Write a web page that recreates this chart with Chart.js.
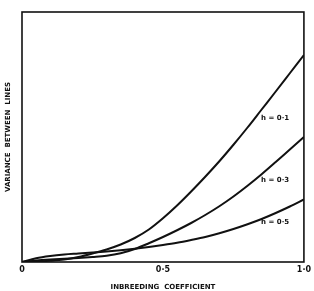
<!DOCTYPE html>
<html>
<head>
<meta charset="utf-8">
<script src="https://cdn.jsdelivr.net/npm/chart.js@4"></script>
<style>
  html, body { margin: 0; padding: 0; background: #fff; }
  #wrap { width: 314px; height: 291px; }
</style>
</head>
<body>
<div id="wrap"><canvas id="c" width="314" height="291"></canvas></div>
<script>
// Inbreeding coefficient (x)
const inbreeding = [0, 0.05, 0.1, 0.15, 0.2, 0.25, 0.3, 0.35, 0.4, 0.45, 0.5,
                    0.55, 0.6, 0.65, 0.7, 0.75, 0.8, 0.85, 0.9, 0.95, 1.0];
// Variance between lines (relative units)
const h01 = [0, 0.002, 0.005, 0.010, 0.020, 0.034, 0.050, 0.070, 0.096, 0.130, 0.175,
             0.226, 0.282, 0.341, 0.403, 0.469, 0.538, 0.610, 0.682, 0.755, 0.828];
const h03 = [0, 0.006, 0.010, 0.013, 0.016, 0.020, 0.025, 0.035, 0.052, 0.075, 0.100,
             0.127, 0.156, 0.188, 0.223, 0.262, 0.305, 0.351, 0.400, 0.450, 0.500];
const h05 = [0, 0.015, 0.024, 0.030, 0.034, 0.038, 0.042, 0.047, 0.053, 0.060, 0.068,
             0.077, 0.088, 0.100, 0.115, 0.132, 0.151, 0.172, 0.196, 0.222, 0.250];
const seriesNames = ['h = 0·1', 'h = 0·3', 'h = 0·5'];
const xTickValues = [0, 0.5, 1.0];
const xTickLabels = ['0', '0·5', '1·0'];
// label anchor (in data units) for each curve's name
const labelAt = [[0.898, 0.576], [0.898, 0.328], [0.898, 0.160]];

const FONT = '"DejaVu Sans", "Liberation Sans", sans-serif';

const toPts = arr => arr.map((v, i) => ({ x: inbreeding[i], y: v }));

const framePlugin = {
  id: 'frame',
  afterDatasetsDraw(chart) {
    const { ctx, chartArea: a } = chart;
    ctx.save();
    ctx.strokeStyle = '#111';
    ctx.lineWidth = 1.6;
    ctx.strokeRect(a.left, a.top, a.right - a.left, a.bottom - a.top);
    ctx.restore();
  }
};

const labelPlugin = {
  id: 'curveLabels',
  afterDatasetsDraw(chart) {
    const { ctx, scales } = chart;
    ctx.save();
    ctx.fillStyle = '#111';
    ctx.font = 'bold 7px ' + FONT;
    ctx.textAlign = 'center';
    ctx.textBaseline = 'middle';
    seriesNames.forEach((name, i) => {
      const px = scales.x.getPixelForValue(labelAt[i][0]);
      const py = scales.y.getPixelForValue(labelAt[i][1]);
      ctx.fillText(name, px, py);
    });
    ctx.restore();
  }
};

const mk = (name, data) => ({
  label: name,
  data: toPts(data),
  borderColor: '#111',
  borderWidth: 2,
  pointRadius: 0,
  fill: false,
  cubicInterpolationMode: 'monotone'
});

new Chart(document.getElementById('c'), {
  type: 'line',
  data: {
    datasets: [mk(seriesNames[0], h01), mk(seriesNames[1], h03), mk(seriesNames[2], h05)]
  },
  options: {
    responsive: false,
    animation: false,
    layout: { padding: { top: 12, right: 9, left: 0, bottom: 0 } },
    plugins: { legend: { display: false }, tooltip: { enabled: false } },
    scales: {
      x: {
        type: 'linear',
        min: 0, max: 1,
        afterBuildTicks: s => { s.ticks = xTickValues.map(v => ({ value: v })); },
        afterFit: s => { s.height = 29; },
        grid: { display: false, drawTicks: false },
        border: { display: false },
        ticks: {
          padding: 3,
          color: '#111',
          maxRotation: 0,
          font: { family: FONT, size: 8, weight: 'bold' },
          callback: (v) => { const i = xTickValues.indexOf(v); return i >= 0 ? xTickLabels[i] : ''; }
        },
        title: {
          display: true,
          text: 'INBREEDING  COEFFICIENT',
          color: '#111',
          font: { family: FONT, size: 7, weight: 'bold' },
          padding: { top: 2, bottom: 0 }
        }
      },
      y: {
        type: 'linear',
        min: 0, max: 1,
        afterFit: s => { s.width = 22; },
        grid: { display: false, drawTicks: false },
        border: { display: false },
        ticks: { display: false },
        title: {
          display: true,
          text: 'VARIANCE  BETWEEN  LINES',
          color: '#111',
          font: { family: FONT, size: 7, weight: 'bold' },
          padding: { top: 4, bottom: 0 }
        }
      }
    }
  },
  plugins: [framePlugin, labelPlugin]
});
</script>
</body>
</html>
